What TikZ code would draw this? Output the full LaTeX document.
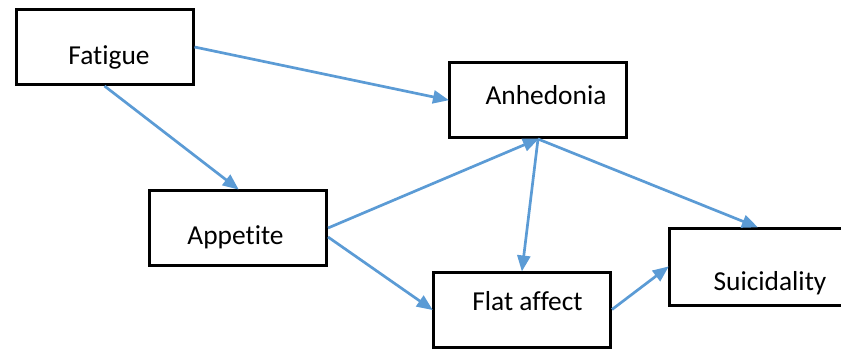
\documentclass[tikz,border=0pt]{standalone}
\usepackage{fontspec}
\setmainfont[Ligatures=NoCommon]{Carlito}
\usetikzlibrary{arrows.meta}
\definecolor{linkblue}{HTML}{5B9BD5}
\tikzset{
  box/.style={draw=black, line width=3pt, minimum width=177pt, minimum height=75pt,
    inner sep=0pt, fill=white},
  lbl/.style={anchor=base, inner sep=0pt, font=\fontsize{27.4pt}{30pt}\selectfont},
  link/.style={draw=linkblue, line width=2.7pt,
    -{Triangle[length=16pt,width=13pt]}, shorten >=-1pt}
}
\begin{document}
\begin{tikzpicture}[x=1pt,y=-1pt]
  \path[use as bounding box] (0,0) rectangle (841,350);
  \clip (0,0) rectangle (841,350);

  % boxes
  \node[box] (fat) at (104.5,47) {};
  \node[box] (anh) at (538,100) {};
  \node[box] (app) at (238,228) {};
  \node[box] (fla) at (522,309.5) {};
  \node[box, minimum height=77pt] (sui) at (758,267) {};

  % captions
  \node[lbl] (fatT) at (109,65) {Fatigue};
  \node[lbl] (anhT) at (546,105) {Anhedonia};
  \node[lbl] (appT) at (235.5,244) {Appetite};
  \node[lbl] (flaT) at (527.5,310) {Flat affect};
  \node[lbl] (suiT) at (770,290) {Suicidality};

  % connectors
  \draw[link] (fat.east) -- (anh.west);
  \draw[link] (fat.south) -- (app.north);
  \draw[link] (app.east) -- (anh.south);
  \draw[link] ([yshift=-9pt]app.east) -- (fla.west);
  \draw[link] (anh.south) -- (fla.north);
  \draw[link] (anh.south) -- ([xshift=-1pt]sui.north);
  \draw[link] (fla.east) -- (sui.west);
\end{tikzpicture}
\end{document}
